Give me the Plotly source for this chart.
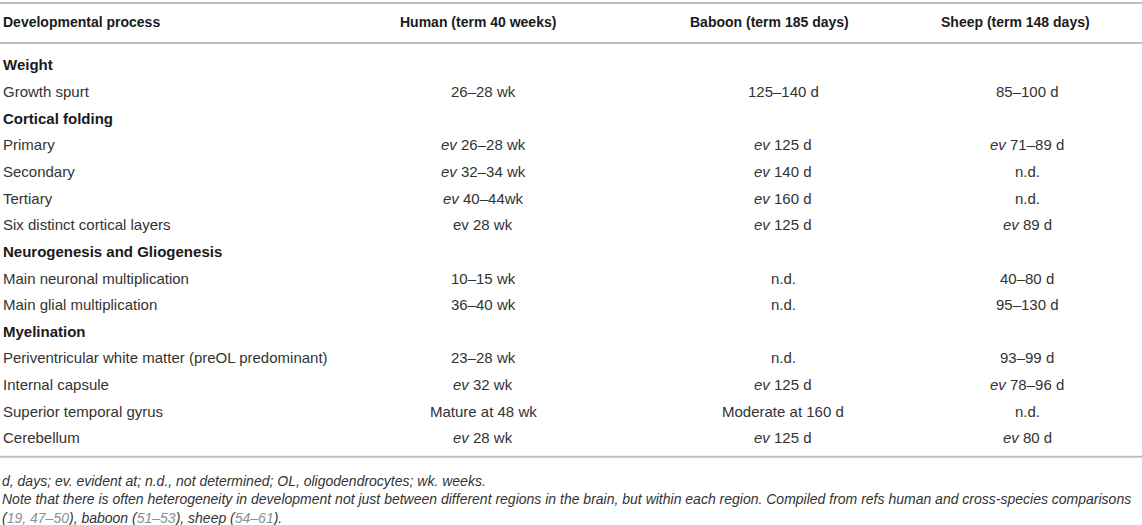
import plotly.graph_objects as go

# table content
columns = ["Developmental process", "Human (term 40 weeks)", "Baboon (term 185 days)", "Sheep (term 148 days)"]

processes = [
    "<b>Weight</b>",
    "Growth spurt",
    "<b>Cortical folding</b>",
    "Primary",
    "Secondary",
    "Tertiary",
    "Six distinct cortical layers",
    "<b>Neurogenesis and Gliogenesis</b>",
    "Main neuronal multiplication",
    "Main glial multiplication",
    "<b>Myelination</b>",
    "Periventricular white matter (preOL predominant)",
    "Internal capsule",
    "Superior temporal gyrus",
    "Cerebellum",
]
human = ["", "26–28 wk", "", "<i>ev</i> 26–28 wk", "<i>ev</i> 32–34 wk", "<i>ev</i> 40–44wk", "ev 28 wk",
         "", "10–15 wk", "36–40 wk", "", "23–28 wk", "<i>ev</i> 32 wk", "Mature at 48 wk", "<i>ev</i> 28 wk"]
baboon = ["", "125–140 d", "", "<i>ev</i> 125 d", "<i>ev</i> 140 d", "<i>ev</i> 160 d", "<i>ev</i> 125 d",
          "", "n.d.", "n.d.", "", "n.d.", "<i>ev</i> 125 d", "Moderate at 160 d", "<i>ev</i> 125 d"]
sheep = ["", "85–100 d", "", "<i>ev</i> 71–89 d", "n.d.", "n.d.", "<i>ev</i> 89 d",
         "", "40–80 d", "95–130 d", "", "93–99 d", "<i>ev</i> 78–96 d", "n.d.", "<i>ev</i> 80 d"]

ref = '<span style="color:#8a8f99">{}</span>'
footnotes = [
    "<i>d, days; ev. evident at; n.d., not determined; OL, oligodendrocytes; wk. weeks.</i>",
    "<i>Note that there is often heterogeneity in development not just between different regions in the brain, "
    "but within each region. Compiled from refs human and cross-species comparisons</i>",
    "<i>(" + ref.format("19, 47–50") + "), baboon (" + ref.format("51–53") + "), sheep ("
    + ref.format("54–61") + ").</i>",
]

FONT = "Liberation Sans, Arial, sans-serif"
BODY = "#333333"
HEAD = "#1a1a1a"
RULE = "#bfbfbf"

col_x = [1, 483, 783, 1027]
head_x = [1, 478, 769, 1015]

fig = go.Figure()
fig.add_trace(go.Scatter(x=[0], y=[0], mode="markers", marker=dict(opacity=0), hoverinfo="skip", showlegend=False))

# header row
for i, name in enumerate(columns):
    fig.add_annotation(x=head_x[i], y=-1.62, text=f"<b>{name}</b>", showarrow=False,
                       xanchor="left" if i == 0 else "center", yanchor="middle",
                       font=dict(family=FONT, size=14, color=HEAD))

# body rows
for r, proc in enumerate(processes):
    fig.add_annotation(x=col_x[0], y=r, text=proc, showarrow=False, xanchor="left", yanchor="middle",
                       font=dict(family=FONT, size=15, color=HEAD if proc.startswith("<b>") else BODY))
    for c, vals in enumerate([human, baboon, sheep], start=1):
        if vals[r]:
            fig.add_annotation(x=col_x[c], y=r, text=vals[r], showarrow=False, xanchor="center",
                               yanchor="middle", font=dict(family=FONT, size=15, color=BODY))

# footnotes
for k, note in enumerate(footnotes):
    fig.add_annotation(x=0, y=15.6 + 0.71 * k, text=note, showarrow=False, xanchor="left", yanchor="middle",
                       font=dict(family=FONT, size=14, color=BODY))

# horizontal rules
for yr in [-2.33, -0.83, 14.71]:
    fig.add_shape(type="line", x0=0, x1=1142, y0=yr, y1=yr, xref="x", yref="y",
                  line=dict(color=RULE, width=2))

fig.update_xaxes(range=[0, 1142], visible=False, fixedrange=True)
fig.update_yaxes(range=[17.27, -2.44], visible=False, fixedrange=True)
fig.update_layout(width=1142, height=525, margin=dict(l=0, r=0, t=0, b=0),
                  plot_bgcolor="white", paper_bgcolor="white", showlegend=False)

fig.write_html("out.html", config={"displayModeBar": False},
               post_script="document.body.style.margin='0';document.body.style.overflow='hidden';")
